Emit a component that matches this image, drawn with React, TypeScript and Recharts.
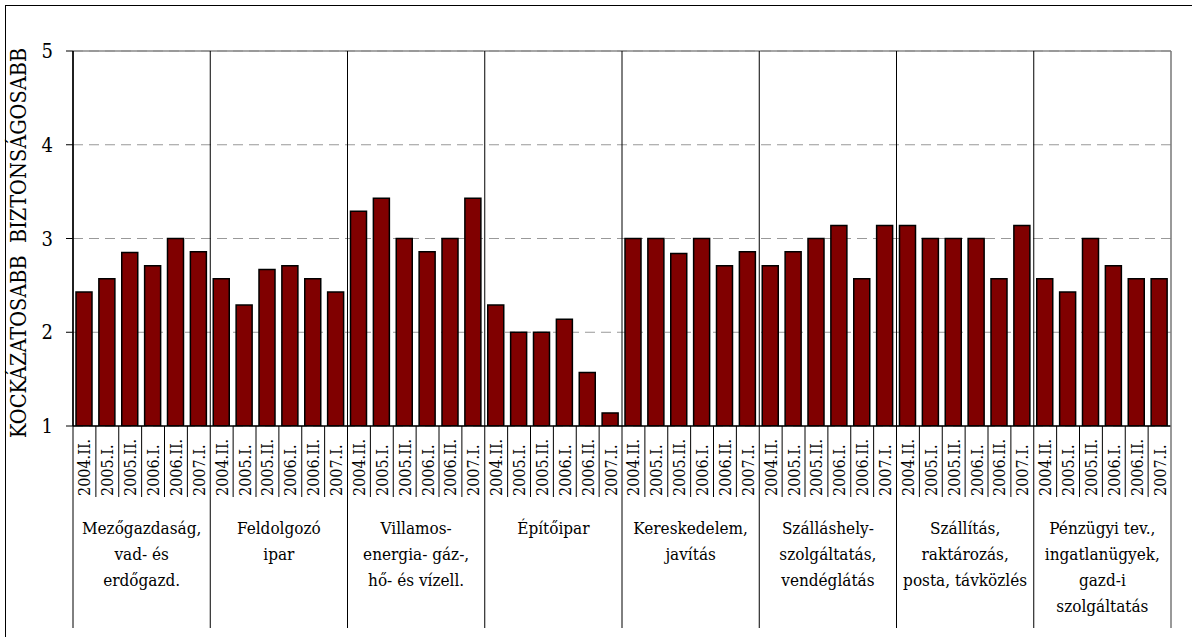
import { BarChart, Bar, XAxis, YAxis, CartesianGrid, ReferenceLine } from "recharts";

const FONT = "DejaVu Serif Condensed, DejaVu Serif";

// half-year survey periods, repeated for every sector
const periods = ["2004.II.", "2005.I.", "2005.II.", "2006.I.", "2006.II.", "2007.I."];

// sector names, one entry per printed line
const sectorLines = [
  ["Mezőgazdaság,", "vad- és", "erdőgazd."],
  ["Feldolgozó", "ipar"],
  ["Villamos-", "energia- gáz-,", "hő- és vízell."],
  ["Építőipar"],
  ["Kereskedelem,", "javítás"],
  ["Szálláshely-", "szolgáltatás,", "vendéglátás"],
  ["Szállítás,", "raktározás,", "posta, távközlés"],
  ["Pénzügyi tev.,", "ingatlanügyek,", "gazd-i", "szolgáltatás"],
];

// average score per period (1 = riskier, 5 = safer)
const agriculture = [2.43, 2.57, 2.85, 2.71, 3.0, 2.86];
const manufacturing = [2.57, 2.29, 2.67, 2.71, 2.57, 2.43];
const utilities = [3.29, 3.43, 3.0, 2.86, 3.0, 3.43];
const construction = [2.29, 2.0, 2.0, 2.14, 1.57, 1.14];
const trade = [3.0, 3.0, 2.84, 3.0, 2.71, 2.86];
const hospitality = [2.71, 2.86, 3.0, 3.14, 2.57, 3.14];
const transport = [3.14, 3.0, 3.0, 3.0, 2.57, 3.14];
const finance = [2.57, 2.43, 3.0, 2.71, 2.57, 2.57];

const sectorValues = [agriculture, manufacturing, utilities, construction, trade, hospitality, transport, finance];

const yTicks = [1, 2, 3, 4, 5];

const data = sectorValues.flatMap((values, s) =>
  values.map((value, p) => ({ key: `${s}-${p}`, sector: s, period: periods[p], value }))
);

// plot frame
const W = 1192;
const H = 637;
const PLOT_LEFT = 73;
const PLOT_RIGHT = 1171;
const PLOT_TOP = 51;
const PLOT_BOTTOM = 426;
const SLOT = (PLOT_RIGHT - PLOT_LEFT) / data.length;
const CELL_BOTTOM = 497;
const DIVIDER_BOTTOM = 628;

// one tick per bar: rotated period label, cell separators, and the
// sector label + full-height divider at the start of each group
function PeriodTick(props: any) {
  const { x, index } = props;
  const row = data[index];
  if (!row) return null;
  const left = x - SLOT / 2;
  const groupStart = index % periods.length === 0;
  const last = index === data.length - 1;
  const lines = sectorLines[row.sector];
  const groupCenter = left + (SLOT * periods.length) / 2;
  return (
    <g>
      <line
        x1={left}
        x2={left}
        y1={groupStart ? PLOT_TOP : PLOT_BOTTOM}
        y2={groupStart ? DIVIDER_BOTTOM : CELL_BOTTOM}
        stroke="#000"
        strokeWidth={1}
      />
      {last && (
        <line x1={x + SLOT / 2} x2={x + SLOT / 2} y1={PLOT_TOP} y2={DIVIDER_BOTTOM} stroke="#777" strokeWidth={1.5} />
      )}
      <text
        transform={`translate(${x + 6}, ${CELL_BOTTOM - 1}) rotate(-90)`}
        textAnchor="start"
        fontFamily={FONT}
        fontSize={16}
        fill="#000"
      >
        {row.period}
      </text>
      {groupStart && (
        <text textAnchor="middle" fontFamily={FONT} fontSize={17} fill="#000">
          {lines.map((line, i) => (
            <tspan key={i} x={groupCenter} y={534 + i * 26}>
              {line}
            </tspan>
          ))}
        </text>
      )}
    </g>
  );
}

export default function App() {
  return (
    <div style={{ position: "absolute", left: 0, top: 0, width: W, height: H, background: "#fff" }}>
      <div
        style={{
          position: "absolute",
          left: 5,
          top: 5,
          width: W,
          height: H,
          borderTop: "1.5px solid #000",
          borderLeft: "1.5px solid #000",
        }}
      />
      <div
        style={{
          position: "absolute",
          left: 19 - 220,
          top: 243 - 12,
          width: 440,
          height: 24,
          lineHeight: "24px",
          textAlign: "center",
          transform: "rotate(-90deg)",
          fontFamily: FONT,
          fontSize: 21.5,
          whiteSpace: "pre",
          color: "#000",
        }}
      >
        {"KOCKÁZATOSABB  BIZTONSÁGOSABB"}
      </div>
      <div style={{ position: "absolute", left: 0, top: 0 }}>
        <BarChart
          width={W}
          height={H}
          data={data}
          margin={{ top: PLOT_TOP, right: W - PLOT_RIGHT, bottom: 11, left: PLOT_LEFT - 60 }}
        >
          <CartesianGrid vertical={false} stroke="#999" strokeDasharray="10 6" />
          <ReferenceLine y={5} stroke="#888" strokeWidth={1.5} />
          <XAxis
            dataKey="key"
            height={H - 11 - PLOT_BOTTOM}
            interval={0}
            tickLine={false}
            axisLine={{ stroke: "#000", strokeWidth: 1.5 }}
            tick={<PeriodTick />}
          />
          <YAxis
            width={60}
            domain={[1, 5]}
            ticks={yTicks}
            allowDataOverflow
            tickSize={7}
            tickMargin={13}
            tickLine={{ stroke: "#000" }}
            axisLine={{ stroke: "#000", strokeWidth: 1.5 }}
            tick={{ fontFamily: FONT, fontSize: 20, fill: "#000" }}
          />
          <Bar dataKey="value" fill="#800000" stroke="#000" strokeWidth={1.5} barSize={16} isAnimationActive={false} />
        </BarChart>
      </div>
    </div>
  );
}
